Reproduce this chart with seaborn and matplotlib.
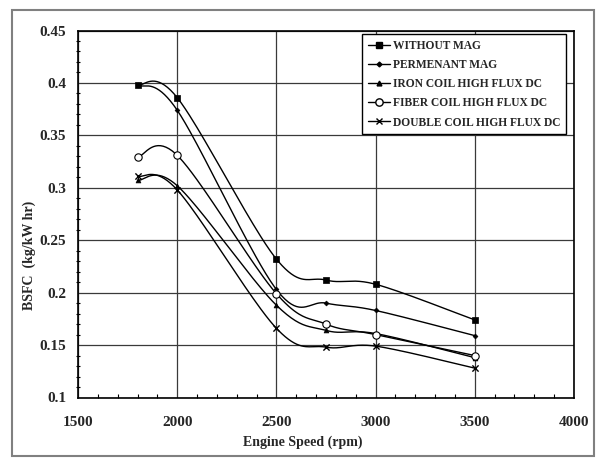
import numpy as np
import pandas as pd
import seaborn as sns
import matplotlib
matplotlib.use("Agg")
import matplotlib.pyplot as plt
from matplotlib.lines import Line2D
from matplotlib.patches import Rectangle
from matplotlib.ticker import MultipleLocator

# Engine speed (rpm) and brake specific fuel consumption (kg/kW hr)
speed = [1800, 2000, 2500, 2750, 3000, 3500]
without_mag = [0.398, 0.386, 0.232, 0.212, 0.208, 0.174]
permanent_mag = [0.398, 0.374, 0.203, 0.190, 0.183, 0.159]
iron_coil = [0.307, 0.302, 0.188, 0.164, 0.161, 0.138]
fiber_coil = [0.329, 0.331, 0.199, 0.170, 0.160, 0.140]
double_coil = [0.311, 0.298, 0.166, 0.148, 0.149, 0.128]

series_names = [
    "WITHOUT MAG",
    "PERMENANT MAG",
    "IRON COIL HIGH FLUX DC",
    "FIBER COIL HIGH FLUX DC",
    "DOUBLE COIL HIGH FLUX DC",
]
series_values = [without_mag, permanent_mag, iron_coil, fiber_coil, double_coil]

x_ticks = [1500, 2000, 2500, 3000, 3500, 4000]
y_ticks = [0.1, 0.15, 0.2, 0.25, 0.3, 0.35, 0.4, 0.45]

marker_styles = {
    "WITHOUT MAG": dict(marker="s", s=14, facecolor="black", edgecolor="black", linewidth=0.5),
    "PERMENANT MAG": dict(marker="D", s=6, facecolor="black", edgecolor="black", linewidth=0.5),
    "IRON COIL HIGH FLUX DC": dict(marker="^", s=12, facecolor="black", edgecolor="black", linewidth=0.5),
    "FIBER COIL HIGH FLUX DC": dict(marker="o", s=28, facecolor="white", edgecolor="black", linewidth=0.8),
    "DOUBLE COIL HIGH FLUX DC": dict(marker="x", s=20, color="black", linewidth=1.0),
}

df = pd.DataFrame(
    [(n, x, y) for n, vals in zip(series_names, series_values) for x, y in zip(speed, vals)],
    columns=["series", "speed", "bsfc"],
)

sns.set_theme(style="white")
plt.rcParams["font.family"] = ["Liberation Serif", "DejaVu Serif"]
plt.rcParams["font.weight"] = "bold"

fig = plt.figure(figsize=(5.96, 4.59), dpi=100)
ax = fig.add_axes([78 / 596, 1 - 397.5 / 459, 496 / 596, 367 / 459])

x_min, x_max, y_min, y_max = 1500, 4000, 0.1, 0.45
# pixel scale of the axes, so the smoothing is done in screen proportions
px_x = 496 / (x_max - x_min)
px_y = 367 / (y_max - y_min)


def smooth_curve(xs, ys, samples=40):
    """Catmull-Rom style Bezier smoothing through every data point."""
    P = np.column_stack([np.asarray(xs) * px_x, np.asarray(ys) * px_y])
    n = len(P)
    out = []
    for i in range(n - 1):
        p_prev = P[max(i - 1, 0)]
        p0, p1 = P[i], P[i + 1]
        p_next = P[min(i + 2, n - 1)]
        c1 = p0 + (p1 - p_prev) / 6.0
        c2 = p1 - (p_next - p0) / 6.0
        t = np.linspace(0, 1, samples)[:, None]
        seg = ((1 - t) ** 3) * p0 + 3 * ((1 - t) ** 2) * t * c1 + 3 * (1 - t) * t ** 2 * c2 + t ** 3 * p1
        out.append(seg if i == 0 else seg[1:])
    out = np.vstack(out)
    return out[:, 0] / px_x, out[:, 1] / px_y


for name in series_names:
    sub = df[df["series"] == name]
    sx, sy = smooth_curve(sub["speed"].values, sub["bsfc"].values)
    ax.plot(sx, sy, color="black", lw=1.0, zorder=3)
    sns.scatterplot(data=sub, x="speed", y="bsfc", ax=ax, legend=False, zorder=4,
                    **marker_styles[name])

ax.set_xlim(x_min, x_max)
ax.set_ylim(y_min, y_max)
ax.set_xticks(x_ticks)
ax.set_yticks(y_ticks)
ax.set_xticklabels([str(v) for v in x_ticks])
ax.set_yticklabels([f"{v:g}" for v in y_ticks])
ax.xaxis.set_minor_locator(MultipleLocator(100))
ax.yaxis.set_minor_locator(MultipleLocator(0.01))

ax.grid(True, which="major", color="#3a3a3a", lw=0.9)
ax.set_axisbelow(True)
for sp in ax.spines.values():
    sp.set_color("black")
    sp.set_linewidth(1.2)

ax.tick_params(axis="x", which="major", direction="in", length=4, width=1, color="black",
               labelsize=11, pad=13)
ax.tick_params(axis="x", which="minor", direction="in", length=3, width=0.8, color="black",
               bottom=True)
ax.tick_params(axis="y", which="major", direction="out", length=4.5, width=1, color="black",
               labelsize=11, pad=4)
ax.tick_params(axis="y", which="minor", direction="inout", length=3, width=0.8, color="black",
               left=True)
for lbl in ax.get_xticklabels() + ax.get_yticklabels():
    lbl.set_fontweight("bold")

ax.set_xlabel("Engine Speed (rpm)", fontsize=10, fontweight="bold")
ax.set_ylabel("BSFC  (kg/kW hr)", fontsize=10, fontweight="bold")
ax.xaxis.set_label_coords(0.454, -0.121)
ax.xaxis.label.set_va("center")
ax.yaxis.set_label_coords(-0.099, 0.388)
ax.yaxis.label.set_va("center")

handles = []
for name in series_names:
    st = marker_styles[name]
    mk = st["marker"]
    ms = np.sqrt(st["s"])
    if mk == "x":
        h = Line2D([], [], color="black", lw=1, marker="x", markersize=ms, markeredgewidth=1)
    else:
        h = Line2D([], [], color="black", lw=1, marker=mk, markersize=ms,
                   markerfacecolor=st["facecolor"], markeredgecolor="black")
    handles.append(h)

leg = ax.legend(handles, series_names, loc="upper left", bbox_to_anchor=(0.573, 0.99),
                frameon=True, fancybox=False, framealpha=1, edgecolor="black",
                prop=dict(family="Liberation Serif", weight="bold", size=8.3),
                handlelength=1.9, handletextpad=0.25, labelspacing=0.62,
                borderpad=0.5, borderaxespad=0)
leg.get_frame().set_linewidth(1.0)

# outer frame around the whole chart
fig.patches.append(Rectangle((12 / 596, 1 - 456 / 459), 582 / 596, 446 / 459,
                             transform=fig.transFigure, fill=False,
                             edgecolor="#808080", lw=1.5))

fig.savefig("out.png", dpi=100)
